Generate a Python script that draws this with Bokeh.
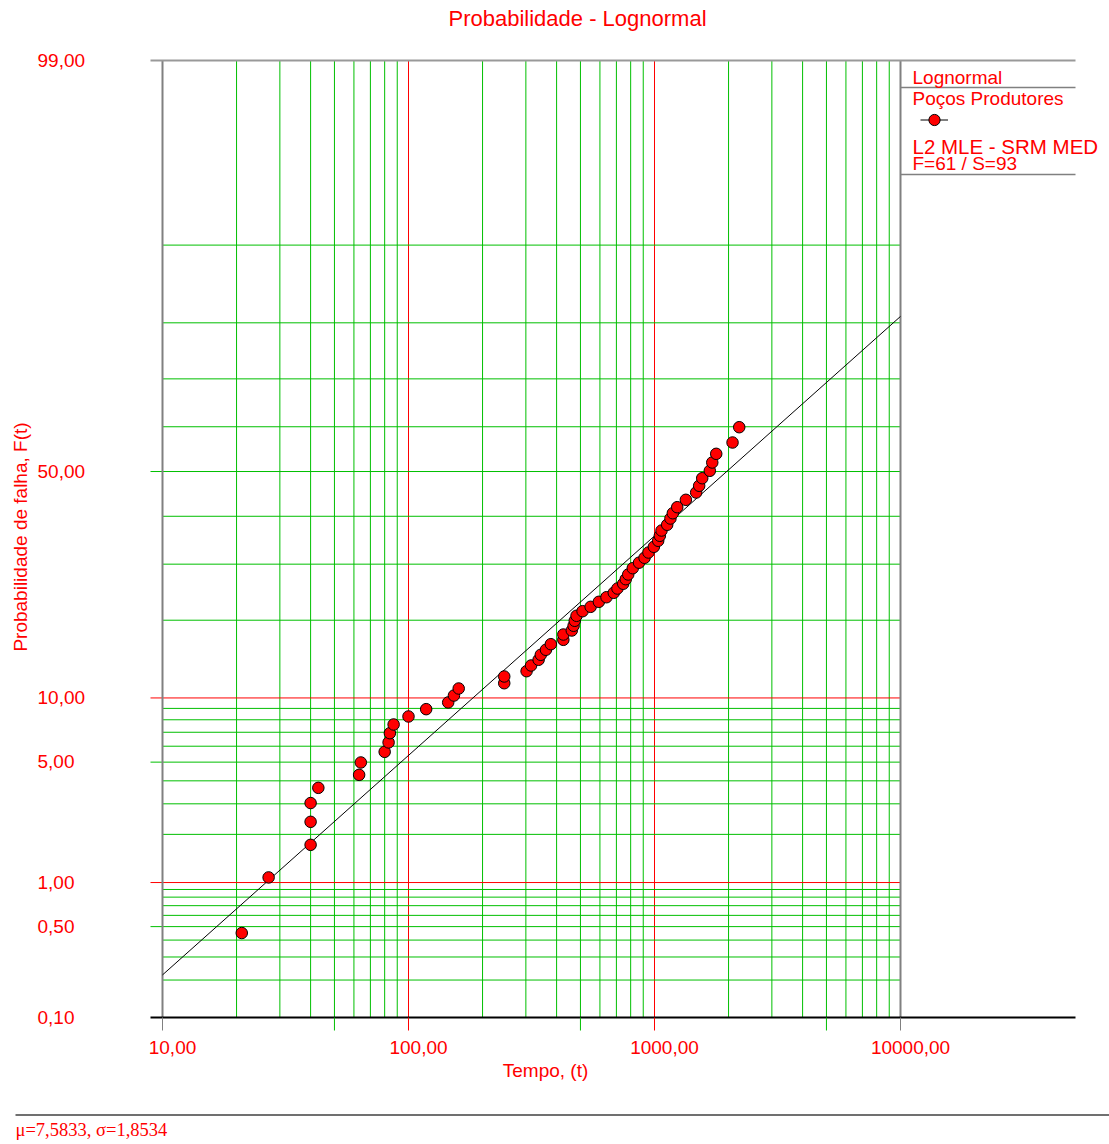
import math
from statistics import NormalDist

import numpy as np
from bokeh.core.properties import value
from bokeh.embed import file_html
from bokeh.models import (ColumnDataSource, Label, LabelSet, Legend, LegendItem, Range1d)
from bokeh.plotting import figure
from bokeh.resources import INLINE

# Failure times (t) of the producing wells and their median-rank positions, F(t) in %
fail_time = [21, 27, 40, 40, 40, 43, 63, 64, 80, 83, 84, 87, 100, 118, 145, 153, 160,
             245, 245, 302, 315, 338, 345, 362, 379, 426, 426, 461, 469, 474, 482, 510,
             550, 594, 638, 683, 707, 746, 764, 782, 816, 865, 911, 945, 994, 1035,
             1051, 1068, 1126, 1161, 1187, 1237, 1341, 1477, 1519, 1563, 1678, 1717,
             1782, 2076, 2210]
fail_pct = [0.45, 1.08, 1.73, 2.37, 3.03, 3.67, 4.30, 4.98, 5.63, 6.26, 6.93, 7.61, 8.28,
            8.93, 9.56, 10.24, 10.97, 11.54, 12.30, 12.92, 13.61, 14.33, 14.98, 15.65,
            16.42, 17.04, 17.81, 18.41, 19.13, 19.91, 20.71, 21.46, 22.19, 23.04, 23.84,
            24.62, 25.39, 26.26, 27.11, 28.00, 29.21, 30.29, 31.26, 32.33, 33.50, 34.75,
            35.80, 36.92, 38.15, 39.51, 40.67, 42.00, 43.64, 45.27, 46.78, 48.49, 50.16,
            52.03, 53.99, 56.52, 59.90]

# Fitted lognormal (natural log of t)
mu = 7.5833
sigma = 1.8534
n_failures = 61
n_suspensions = 93

# Probability scale
y_tick_pct = [0.1, 0.5, 1, 5, 10, 50, 99]
y_tick_labels = ["0,10", "0,50", "1,00", "5,00", "10,00", "50,00", "99,00"]
grid_pct_green = [0.2, 0.3, 0.4, 0.5, 0.6, 0.7, 0.8, 0.9, 2, 3, 4, 5, 6, 7, 8, 9,
                  20, 30, 40, 50, 60, 70, 80, 90]
grid_pct_red = [1, 10]

# Time scale
x_tick_time = [10, 100, 1000, 10000]
x_tick_labels = ["10,00", "100,00", "1000,00", "10000,00"]
x_minor_time = [50, 500, 5000]
grid_time_green = [20, 30, 40, 50, 60, 70, 80, 90, 200, 300, 400, 500, 600, 700, 800, 900,
                   2000, 3000, 4000, 5000, 6000, 7000, 8000, 9000]
grid_time_red = [100, 1000]

# ---- page geometry (pixels) ----
W, H = 1109, 1144
BOX_L, BOX_R = 150, 1075             # extent of the top/bottom rules
PAPER_L, PAPER_R = 162, 900          # where t = 10 and t = 10000 sit
PAPER_T, PAPER_B = 60, 1017          # where F = 99 % and F = 0.1 % sit
TICK_B = 1030                        # lower end of the time-axis ticks
LEG_RULES = (87, 174)
FOOT_RULE, FOOT_L = 1114.5, 15
T_MIN, T_MAX = 10, 10000

RED = "#ff0000"
GREEN = "#00bf00"
GRAY = "#808080"
FONT = "Liberation Sans"
SERIF = "Liberation Serif"

nd = NormalDist()


def probit(pct):
    return nd.inv_cdf(pct / 100.0)


z_lo, z_hi = probit(y_tick_pct[0]), probit(y_tick_pct[-1])
px_per_decade = (PAPER_R - PAPER_L) / math.log10(T_MAX / T_MIN)
z_per_px = (z_hi - z_lo) / (PAPER_B - PAPER_T)


def t_at(px):
    """time value found at a horizontal pixel position of the page"""
    return T_MIN * 10 ** ((px - PAPER_L) / px_per_decade)


def z_at(py):
    """probit value found at a vertical pixel position of the page"""
    return z_hi - (py - PAPER_T) * z_per_px


def sy(py):
    return H - py


# the plotting frame covers the whole page so that every text can sit anywhere
p = figure(width=W, height=H, x_axis_type="log",
           x_range=Range1d(t_at(0), t_at(W)), y_range=Range1d(z_at(H), z_at(0)),
           x_axis_location=None, y_axis_location=None, title=None,
           output_backend="svg", toolbar_location=None,
           min_border=0, min_border_left=0, min_border_right=0,
           min_border_top=0, min_border_bottom=0,
           background_fill_color="white", border_fill_color="white",
           outline_line_color=None)
p.grid.visible = False

# ---- probability paper grid ----
p.segment(x0=grid_time_green, x1=grid_time_green, y0=z_lo, y1=z_hi,
          line_color=GREEN, line_width=1)
p.segment(x0=grid_time_red, x1=grid_time_red, y0=z_lo, y1=z_hi,
          line_color=RED, line_width=1)

zg = [probit(v) for v in grid_pct_green]
x0g = [t_at(BOX_L) if v in y_tick_pct else T_MIN for v in grid_pct_green]
p.segment(x0=x0g, x1=T_MAX, y0=zg, y1=zg, line_color=GREEN, line_width=1)
zr = [probit(v) for v in grid_pct_red]
p.segment(x0=[t_at(BOX_L)] * len(zr), x1=T_MAX, y0=zr, y1=zr,
          line_color=RED, line_width=1)

# paper border: side edges, top rule (99 %) and bottom axis line (0.1 %)
p.segment(x0=[T_MIN, T_MAX], x1=[T_MIN, T_MAX], y0=z_lo, y1=z_hi,
          line_color=GRAY, line_width=2)
p.segment(x0=[t_at(BOX_L)], x1=[t_at(BOX_R)], y0=[z_hi], y1=[z_hi],
          line_color="#999999", line_width=2)
p.segment(x0=[t_at(BOX_L)], x1=[t_at(BOX_R)], y0=[z_lo], y1=[z_lo],
          line_color="black", line_width=2)

# time-axis ticks hanging below the bottom line
tick_t = x_tick_time + x_minor_time
tick_c = [RED if t in grid_time_red else GREEN if t in grid_time_green else GRAY
          for t in tick_t]
p.segment(x0=tick_t, x1=tick_t, y0=z_lo, y1=z_at(TICK_B), line_color=tick_c, line_width=1)

# ---- fitted line and failure points ----
t_fit = np.array([T_MIN, T_MAX], dtype=float)
z_fit = (np.log(t_fit) - mu) / sigma
fit_r = p.line(t_fit, z_fit, line_color="black", line_width=1)

pts = ColumnDataSource(dict(t=fail_time, z=[probit(v) for v in fail_pct]))
pts_r = p.scatter("t", "z", source=pts, size=11.5, fill_color=RED,
                  line_color="black", line_width=1)

# ---- tick labels ----
xlab = ColumnDataSource(dict(t=x_tick_time, text=x_tick_labels))
p.add_layout(LabelSet(x="t", y=sy(1047), y_units="screen", text="text", source=xlab,
                      x_offset=10, text_align="center", text_baseline="middle",
                      text_color=RED, text_font=value(FONT), text_font_size="19px"))

ylab = ColumnDataSource(dict(z=[probit(v) for v in y_tick_pct], text=y_tick_labels))
p.add_layout(LabelSet(x=37, x_units="screen", y="z", text="text", source=ylab,
                      y_offset=0.5, text_align="left", text_baseline="middle",
                      text_color=RED, text_font=value(FONT), text_font_size="19px"))

# ---- titles ----
p.add_layout(Label(x=577, y=sy(17.5), x_units="screen", y_units="screen",
                   text="Probabilidade - Lognormal", text_align="center",
                   text_baseline="middle", text_color=RED, text_font=FONT,
                   text_font_size="22px"))
p.add_layout(Label(x=545, y=sy(1069.5), x_units="screen", y_units="screen",
                   text="Tempo, (t)", text_align="center", text_baseline="middle",
                   text_color=RED, text_font=FONT, text_font_size="19px"))
p.add_layout(Label(x=20, y=sy(536.5), x_units="screen", y_units="screen",
                   text="Probabilidade de falha, F(t)", angle=math.pi / 2,
                   text_align="center", text_baseline="middle",
                   text_color=RED, text_font=FONT, text_font_size="19px"))

# ---- legend panel ----
p.segment(x0=[T_MAX] * len(LEG_RULES), x1=[t_at(BOX_R)] * len(LEG_RULES),
          y0=[z_at(v) for v in LEG_RULES], y1=[z_at(v) for v in LEG_RULES],
          line_color=GRAY, line_width=1.5)

legend_texts = [
    ("Lognormal", 76.7, "19px"),
    ("Poços Produtores", 97.5, "19px"),
    ("L2 MLE - SRM MED", 146, "20.5px"),
    (f"F={n_failures} / S={n_suspensions}", 163.3, "19px"),
]
for txt, cy, fs in legend_texts:
    p.add_layout(Label(x=912, y=sy(cy), x_units="screen", y_units="screen",
                       text=txt, text_align="left", text_baseline="middle",
                       text_color=RED, text_font=FONT, text_font_size=fs))

legend = Legend(items=[LegendItem(label=" ", renderers=[fit_r, pts_r])],
                location=(920, sy(133.8)), padding=0, margin=0, spacing=0,
                glyph_width=28, glyph_height=29, label_height=29, label_width=1,
                label_standoff=0, label_text_font_size="1px",
                border_line_color=None, background_fill_alpha=0)
p.add_layout(legend)

# ---- parameter footer ----
p.segment(x0=[t_at(FOOT_L)], x1=[t_at(W)], y0=[z_at(FOOT_RULE)], y1=[z_at(FOOT_RULE)],
          line_color="#404040", line_width=1.5)
params = f"μ={mu:.4f}, σ={sigma:.4f}".replace(".", ",")
p.add_layout(Label(x=FOOT_L, y=sy(1129.5), x_units="screen", y_units="screen",
                   text=params, text_align="left", text_baseline="middle",
                   text_color=RED, text_font=SERIF, text_font_size="18.5px"))

open("out.html", "w").write(file_html(p, INLINE))
